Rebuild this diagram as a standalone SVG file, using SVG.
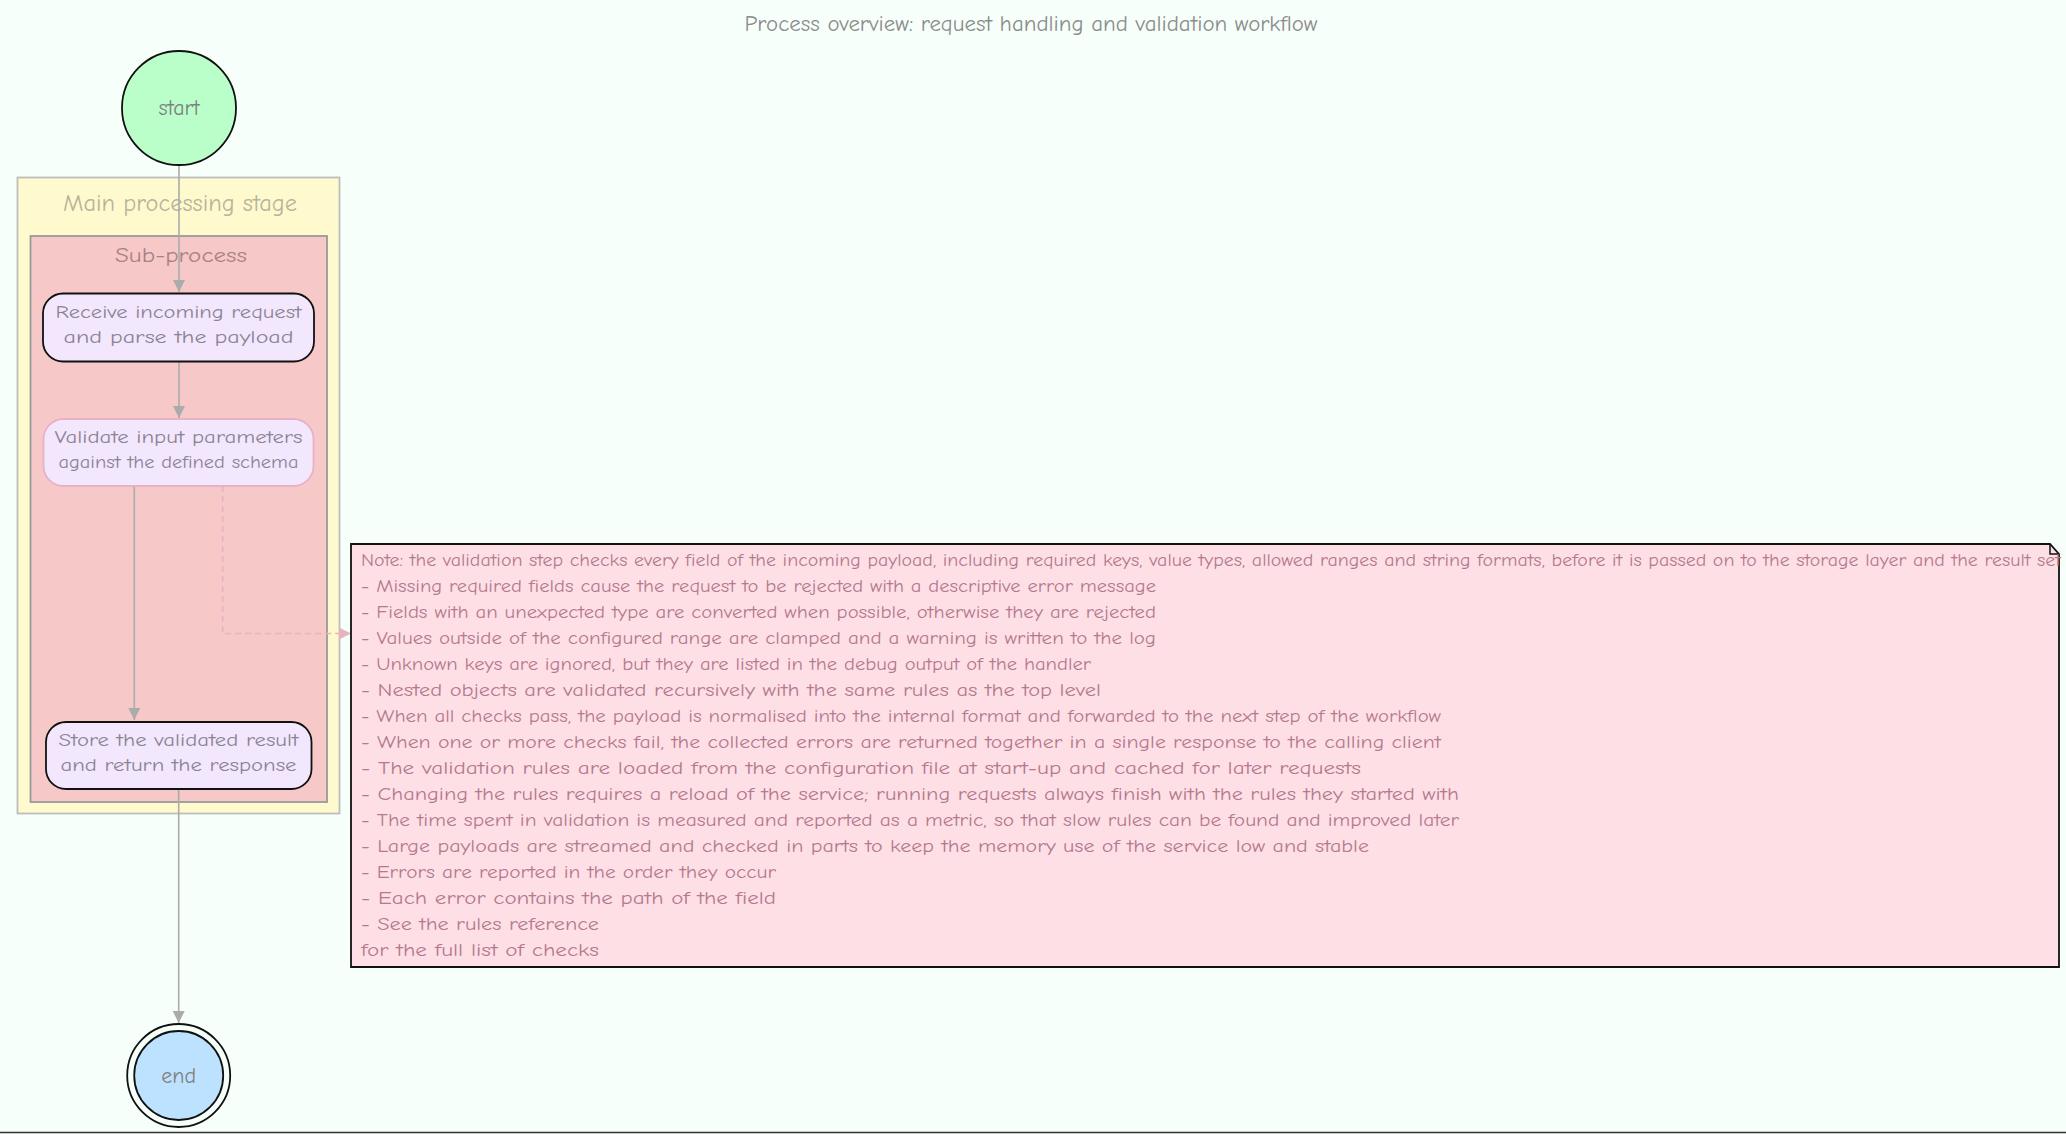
<svg xmlns="http://www.w3.org/2000/svg" width="2066" height="1134" viewBox="0 0 2066 1134">
<defs>
<style>
.bg{fill:#F6FFFA}
.t{font-family:"Comic Sans MS","Comic Neue","Liberation Sans",sans-serif}
.edge{stroke:#ABABAB;stroke-width:1.6;fill:none}
.dash{stroke:#E6B3C3;stroke-width:1.6;fill:none;stroke-dasharray:6,4}
.node{fill:#F3E7FD;stroke:#111;stroke-width:1.8}
.nodeSel{fill:#F3E7FD;stroke:#E8B2C6;stroke-width:1.8}
.ntext{font-size:19px;fill:#8a8494;text-anchor:middle}
.notetext{font-size:18px;fill:#b37a8e}
</style>
<marker id="ah" viewBox="0 0 12 12" refX="12" refY="6" markerWidth="12" markerHeight="12" markerUnits="userSpaceOnUse" orient="auto">
<path d="M0,0 L12,6 L0,12 Z" fill="#ABABAB"/>
</marker>
<marker id="ahp" viewBox="0 0 12 12" refX="12" refY="6" markerWidth="12" markerHeight="12" markerUnits="userSpaceOnUse" orient="auto">
<path d="M0,0 L12,6 L0,12 Z" fill="#E6B3C3"/>
</marker>
</defs>
<rect class="bg" x="0" y="0" width="2066" height="1134"/>
<line x1="0" y1="1132.5" x2="2066" y2="1132.5" stroke="#333" stroke-width="1.5"/>

<text class="t" x="1031" y="31" font-size="22" fill="#8c8c8c" text-anchor="middle" textLength="573" lengthAdjust="spacingAndGlyphs">Process overview: request handling and validation workflow</text>

<g id="cluster-outer">
<rect x="17.5" y="177.5" width="322" height="636" fill="#FFFACD" stroke="#BDBDBD" stroke-width="1.8"/>
<text class="t" x="180" y="211" font-size="24" fill="#b8b49a" text-anchor="middle" textLength="234" lengthAdjust="spacingAndGlyphs">Main processing stage</text>
</g>
<g id="cluster-inner">
<rect x="30.5" y="236" width="296.5" height="566" fill="#F6C8C8" stroke="#999" stroke-width="1.8"/>
<text class="t" x="181" y="262" font-size="20" fill="#a88282" text-anchor="middle" textLength="132" lengthAdjust="spacingAndGlyphs">Sub-process</text>
</g>

<g id="connectors">
<line class="edge" x1="179" y1="165" x2="179" y2="292" marker-end="url(#ah)"/>
<line class="edge" x1="179" y1="362" x2="179" y2="418" marker-end="url(#ah)"/>
<line class="edge" x1="134.3" y1="486" x2="134.3" y2="720" marker-end="url(#ah)"/>
<polyline class="dash" points="222.7,486 222.7,633.5 351,633.5" marker-end="url(#ahp)"/>
<line class="edge" x1="178.7" y1="790" x2="178.7" y2="1023" marker-end="url(#ah)"/>
</g>

<g id="start">
<circle cx="179" cy="108" r="57" fill="#BAFFCA" stroke="#111" stroke-width="1.8"/>
<text class="t" x="179" y="115" font-size="22" fill="#808080" text-anchor="middle">start</text>
</g>

<g id="node1">
<rect class="node" x="43" y="293.5" width="271" height="68" rx="20" ry="20"/>
<text class="t ntext" x="178.5" y="318" textLength="246" lengthAdjust="spacingAndGlyphs">Receive incoming request</text>
<text class="t ntext" x="178.5" y="343" textLength="230" lengthAdjust="spacingAndGlyphs">and parse the payload</text>
</g>

<g id="node2">
<rect class="nodeSel" x="43.5" y="419" width="270" height="67" rx="20" ry="20"/>
<text class="t ntext" x="178.5" y="443" textLength="248" lengthAdjust="spacingAndGlyphs">Validate input parameters</text>
<text class="t ntext" x="178.5" y="468" textLength="240" lengthAdjust="spacingAndGlyphs">against the defined schema</text>
</g>

<g id="node3">
<rect class="node" x="46" y="722" width="265.5" height="67" rx="20" ry="20"/>
<text class="t ntext" x="178.5" y="746" textLength="240" lengthAdjust="spacingAndGlyphs">Store the validated result</text>
<text class="t ntext" x="178.5" y="771" textLength="236" lengthAdjust="spacingAndGlyphs">and return the response</text>
</g>

<g id="note">
<path d="M351,544 H2050 L2059,554 V967 H351 Z" fill="#FFDFE6" stroke="#111" stroke-width="1.8"/>
<path d="M2050,544 V554 H2059" fill="none" stroke="#111" stroke-width="1.5"/>
<text class="t notetext" x="361" y="566" textLength="1700" lengthAdjust="spacingAndGlyphs">Note: the validation step checks every field of the incoming payload, including required keys, value types, allowed ranges and string formats, before it is passed on to the storage layer and the result set</text>
<text class="t notetext" x="361" y="592" textLength="795" lengthAdjust="spacingAndGlyphs">- Missing required fields cause the request to be rejected with a descriptive error message</text>
<text class="t notetext" x="361" y="618" textLength="795" lengthAdjust="spacingAndGlyphs">- Fields with an unexpected type are converted when possible, otherwise they are rejected</text>
<text class="t notetext" x="361" y="644" textLength="795" lengthAdjust="spacingAndGlyphs">- Values outside of the configured range are clamped and a warning is written to the log</text>
<text class="t notetext" x="361" y="670" textLength="730" lengthAdjust="spacingAndGlyphs">- Unknown keys are ignored, but they are listed in the debug output of the handler</text>
<text class="t notetext" x="361" y="696" textLength="740" lengthAdjust="spacingAndGlyphs">- Nested objects are validated recursively with the same rules as the top level</text>
<text class="t notetext" x="361" y="722" textLength="1080" lengthAdjust="spacingAndGlyphs">- When all checks pass, the payload is normalised into the internal format and forwarded to the next step of the workflow</text>
<text class="t notetext" x="361" y="748" textLength="1080" lengthAdjust="spacingAndGlyphs">- When one or more checks fail, the collected errors are returned together in a single response to the calling client</text>
<text class="t notetext" x="361" y="774" textLength="1000" lengthAdjust="spacingAndGlyphs">- The validation rules are loaded from the configuration file at start-up and cached for later requests</text>
<text class="t notetext" x="361" y="800" textLength="1098" lengthAdjust="spacingAndGlyphs">- Changing the rules requires a reload of the service; running requests always finish with the rules they started with</text>
<text class="t notetext" x="361" y="826" textLength="1098" lengthAdjust="spacingAndGlyphs">- The time spent in validation is measured and reported as a metric, so that slow rules can be found and improved later</text>
<text class="t notetext" x="361" y="852" textLength="1008" lengthAdjust="spacingAndGlyphs">- Large payloads are streamed and checked in parts to keep the memory use of the service low and stable</text>
<text class="t notetext" x="361" y="878" textLength="415" lengthAdjust="spacingAndGlyphs">- Errors are reported in the order they occur</text>
<text class="t notetext" x="361" y="904" textLength="415" lengthAdjust="spacingAndGlyphs">- Each error contains the path of the field</text>
<text class="t notetext" x="361" y="930" textLength="238" lengthAdjust="spacingAndGlyphs">- See the rules reference</text>
<text class="t notetext" x="361" y="956" textLength="238" lengthAdjust="spacingAndGlyphs">for the full list of checks</text>
</g>

<g id="end">
<circle cx="178.7" cy="1075.5" r="51.5" fill="none" stroke="#111" stroke-width="1.8"/>
<circle cx="178.7" cy="1075.5" r="44.5" fill="#BDE2FF" stroke="#111" stroke-width="1.8"/>
<text class="t" x="178.7" y="1083" font-size="22" fill="#808080" text-anchor="middle">end</text>
</g>
</svg>
